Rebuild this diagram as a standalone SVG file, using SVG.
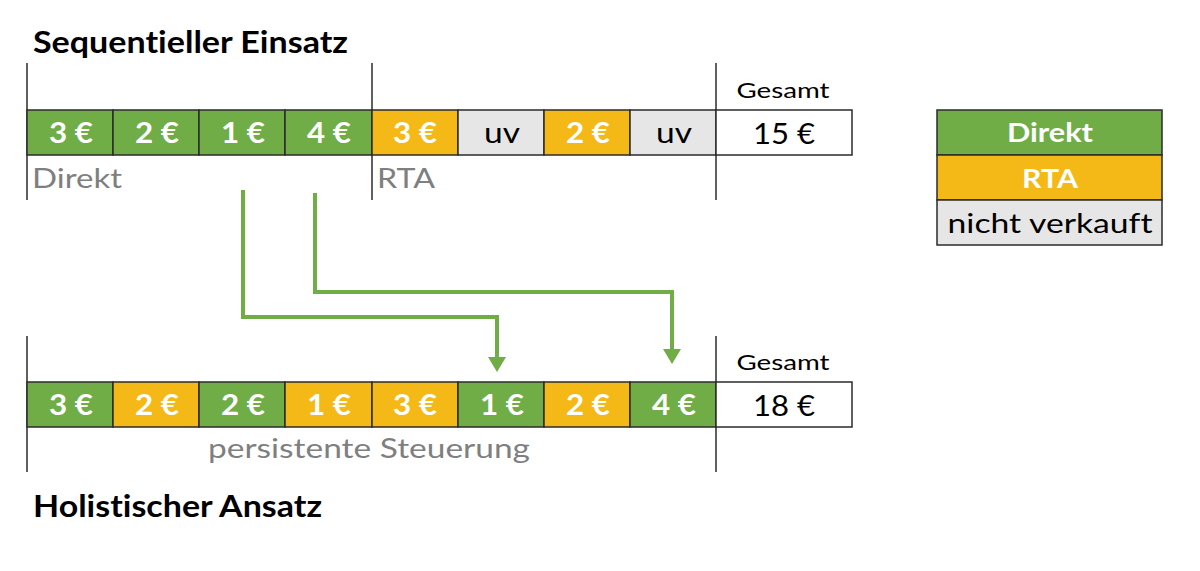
<svg xmlns="http://www.w3.org/2000/svg" width="1200" height="571" viewBox="0 0 1200 571">
<style>
text{font-variant-ligatures:none;font-feature-settings:"liga" 0}
.g{fill:#70ad47}
.y{fill:#f4b916}
.u{fill:#e7e6e6}
.w{fill:#ffffff}
.cell{stroke:#2b2b2b;stroke-width:1.5}
.ct{font-family:Lato,"Open Sans",sans-serif;font-weight:bold;font-size:29px;fill:#ffffff;text-anchor:middle}
.dt{font-family:Lato,"Open Sans",sans-serif;font-size:29px;fill:#000000;text-anchor:middle}
.lt{font-family:Lato,"Open Sans",sans-serif;font-weight:bold;font-size:27px;fill:#ffffff;text-anchor:middle}
.ld{font-family:Lato,"Open Sans",sans-serif;font-size:27px;fill:#000000;text-anchor:middle}
.title{font-family:Lato,"Open Sans",sans-serif;font-weight:bold;font-size:30px;fill:#000000}
.lbl{font-family:Lato,"Open Sans",sans-serif;font-size:27px;fill:#7f7f7f}
.ges{font-family:Lato,"Open Sans",sans-serif;font-size:22px;fill:#000000;text-anchor:middle}
.vl{stroke:#2b2b2b;stroke-width:1.5}
.arr{fill:none;stroke:#70ad47;stroke-width:4}
.ah{fill:#70ad47}
</style>

<text class="title" x="33" y="53" textLength="315" lengthAdjust="spacingAndGlyphs">Sequentieller Einsatz</text>
<text class="title" x="33" y="517" textLength="289" lengthAdjust="spacingAndGlyphs">Holistischer Ansatz</text>

<g id="top-row">
<line class="vl" x1="27" y1="63" x2="27" y2="200"/>
<line class="vl" x1="372" y1="63" x2="372" y2="200"/>
<line class="vl" x1="716" y1="63" x2="716" y2="200"/>
<rect class="g cell" x="27" y="110" width="86" height="45"/>
<rect class="g cell" x="113" y="110" width="86" height="45"/>
<rect class="g cell" x="199" y="110" width="86" height="45"/>
<rect class="g cell" x="285" y="110" width="87" height="45"/>
<rect class="y cell" x="372" y="110" width="86" height="45"/>
<rect class="u cell" x="458" y="110" width="86" height="45"/>
<rect class="y cell" x="544" y="110" width="86" height="45"/>
<rect class="u cell" x="630" y="110" width="86" height="45"/>
<rect class="w cell" x="716" y="110" width="136" height="45"/>
<text class="ct" x="71" y="143" textLength="44" lengthAdjust="spacingAndGlyphs">3 €</text>
<text class="ct" x="157" y="143" textLength="44" lengthAdjust="spacingAndGlyphs">2 €</text>
<text class="ct" x="243" y="143" textLength="44" lengthAdjust="spacingAndGlyphs">1 €</text>
<text class="ct" x="329" y="143" textLength="44" lengthAdjust="spacingAndGlyphs">4 €</text>
<text class="ct" x="415" y="143" textLength="44" lengthAdjust="spacingAndGlyphs">3 €</text>
<text class="dt" x="502" y="143" textLength="36" lengthAdjust="spacingAndGlyphs">uv</text>
<text class="ct" x="588" y="143" textLength="44" lengthAdjust="spacingAndGlyphs">2 €</text>
<text class="dt" x="674" y="143" textLength="36" lengthAdjust="spacingAndGlyphs">uv</text>
<text class="dt" x="784" y="144" textLength="62" lengthAdjust="spacingAndGlyphs">15 €</text>
<text class="ges" x="783" y="98" textLength="93" lengthAdjust="spacingAndGlyphs">Gesamt</text>
<text class="lbl" x="32" y="188" textLength="90" lengthAdjust="spacingAndGlyphs">Direkt</text>
<text class="lbl" x="377" y="188" textLength="58" lengthAdjust="spacingAndGlyphs">RTA</text>
</g>

<g id="bottom-row">
<line class="vl" x1="27" y1="336" x2="27" y2="472"/>
<line class="vl" x1="716" y1="336" x2="716" y2="472"/>
<rect class="g cell" x="27" y="382" width="86" height="45"/>
<rect class="y cell" x="113" y="382" width="86" height="45"/>
<rect class="g cell" x="199" y="382" width="86" height="45"/>
<rect class="y cell" x="285" y="382" width="87" height="45"/>
<rect class="y cell" x="372" y="382" width="86" height="45"/>
<rect class="g cell" x="458" y="382" width="86" height="45"/>
<rect class="y cell" x="544" y="382" width="86" height="45"/>
<rect class="g cell" x="630" y="382" width="86" height="45"/>
<rect class="w cell" x="716" y="382" width="136" height="45"/>
<text class="ct" x="71" y="415" textLength="44" lengthAdjust="spacingAndGlyphs">3 €</text>
<text class="ct" x="157" y="415" textLength="44" lengthAdjust="spacingAndGlyphs">2 €</text>
<text class="ct" x="243" y="415" textLength="44" lengthAdjust="spacingAndGlyphs">2 €</text>
<text class="ct" x="329" y="415" textLength="44" lengthAdjust="spacingAndGlyphs">1 €</text>
<text class="ct" x="415" y="415" textLength="44" lengthAdjust="spacingAndGlyphs">3 €</text>
<text class="ct" x="502" y="415" textLength="44" lengthAdjust="spacingAndGlyphs">1 €</text>
<text class="ct" x="588" y="415" textLength="44" lengthAdjust="spacingAndGlyphs">2 €</text>
<text class="ct" x="674" y="415" textLength="44" lengthAdjust="spacingAndGlyphs">4 €</text>
<text class="dt" x="784" y="416" textLength="62" lengthAdjust="spacingAndGlyphs">18 €</text>
<text class="ges" x="783" y="370" textLength="93" lengthAdjust="spacingAndGlyphs">Gesamt</text>
<text class="lbl" x="369" y="458" text-anchor="middle" font-size="26" textLength="322" lengthAdjust="spacingAndGlyphs">persistente Steuerung</text>
</g>

<g id="legend">
<rect class="g cell" x="937" y="110" width="225" height="45"/>
<rect class="y cell" x="937" y="155" width="225" height="45"/>
<rect class="u cell" x="937" y="200" width="225" height="45"/>
<text class="lt" x="1050" y="142" textLength="86" lengthAdjust="spacingAndGlyphs">Direkt</text>
<text class="lt" x="1050" y="188" textLength="56" lengthAdjust="spacingAndGlyphs">RTA</text>
<text class="ld" x="1050" y="233" textLength="205" lengthAdjust="spacingAndGlyphs">nicht verkauft</text>
</g>

<g id="connectors">
<path class="arr" d="M243,190 V317 H497 V358"/>
<path class="ah" d="M488,357 L506,357 L497,372 Z"/>
<path class="arr" d="M315,193 V292 H672 V350"/>
<path class="ah" d="M663,349 L681,349 L672,364 Z"/>
</g>
</svg>
